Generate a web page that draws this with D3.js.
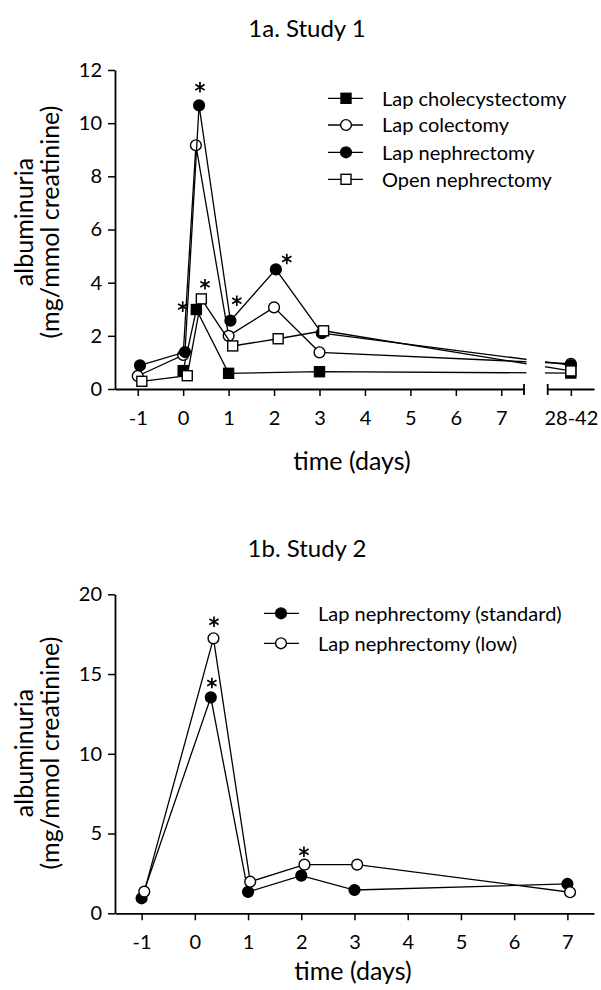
<!DOCTYPE html>
<html>
<head>
<meta charset="utf-8">
<script src="https://cdn.jsdelivr.net/npm/d3@7/dist/d3.min.js"></script>
<style>
  body { margin: 0; background: #fff; }
  text { font-family: Lato, "Open Sans", sans-serif; fill: #000; }
</style>
</head>
<body>
<svg id="fig" width="601" height="990"></svg>
<script>
// ---- data, study 1 ----
var legend1 = ["Lap cholecystectomy", "Lap colectomy", "Lap nephrectomy", "Open nephrectomy"];
var lateLabel = "28-42";
var dayTicks1 = [-1, 0, 1, 2, 3, 4, 5, 6, 7];
var yTicks1 = [0, 2, 4, 6, 8, 10, 12];

var cholecDays = [0, 0.29, 1, 3];
var cholecVals = [0.69, 2.99, 0.59, 0.65];
var cholecLate = 0.6;

var colecDays = [-1, 0, 0.28, 1, 2, 3];
var colecVals = [0.49, 1.28, 9.17, 2.0, 3.07, 1.38];
var colecLate = 0.95;

var lapNephDays = [-0.95, 0.04, 0.35, 1.04, 2.04, 3.05];
var lapNephVals = [0.89, 1.39, 10.67, 2.57, 4.5, 2.1];
var lapNephLate = 0.9;

var openNephDays = [-0.91, 0.09, 0.4, 1.09, 2.09, 3.09];
var openNephVals = [0.29, 0.5, 3.39, 1.62, 1.89, 2.19];
var openNephLate = 0.68;

// asterisks (day, value)
var stars1Days = [0.37, -0.01, 0.48, 1.18, 2.28];
var stars1Vals = [11.35, 3.1, 3.94, 3.32, 4.89];

// ---- data, study 2 ----
var legend2 = ["Lap nephrectomy (standard)", "Lap nephrectomy (low)"];
var dayTicks2 = [-1, 0, 1, 2, 3, 4, 5, 6, 7];
var yTicks2 = [0, 5, 10, 15, 20];

var stdDays = [-1, 0.3, 1, 2, 3, 7];
var stdVals = [0.94, 13.54, 1.34, 2.36, 1.46, 1.84];

var lowDays = [-0.95, 0.35, 1.04, 2.06, 3.05, 7.05];
var lowVals = [1.36, 17.24, 1.98, 3.05, 3.05, 1.32];

var stars2Days = [0.36, 0.32, 2.05];
var stars2Vals = [18.28, 14.44, 3.86];

var svg = d3.select("#fig");
var star = d3.symbol().type(d3.symbolAsterisk).size(80);

function marker(sel, sym, filled) {
    if (sym === "circle") {
        sel.append("circle").attr("r", 5.4);
    } else {
        sel.append("rect").attr("x", -5).attr("y", -5).attr("width", 10).attr("height", 10);
    }
    sel.selectAll("circle,rect")
        .attr("fill", filled ? "#000" : "#fff")
        .attr("stroke", "#000")
        .attr("stroke-width", 1.4);
}

function drawStar(px, py) {
    svg.append("path").attr("d", star)
        .attr("transform", "translate(" + px + "," + py + ")")
        .attr("fill", "none").attr("stroke", "#000").attr("stroke-width", 1.7);
}

function yLabel(cy) {
    var g = svg.append("g").attr("transform", "translate(0," + cy + ") rotate(-90)");
    g.append("text").attr("x", 0).attr("y", 33).attr("text-anchor", "middle")
        .attr("font-size", 25).text("albuminuria");
    g.append("text").attr("x", 0).attr("y", 59).attr("text-anchor", "middle")
        .attr("font-size", 25).text("(mg/mmol creatinine)");
}

function styleAxis(g) {
    g.selectAll("path.domain").attr("stroke", "#000").attr("stroke-width", 1.8);
    g.selectAll(".tick line").attr("stroke", "#000").attr("stroke-width", 1.5);
    g.selectAll(".tick text").attr("font-size", 20).attr("font-family", "Lato, 'Open Sans', sans-serif");
}

function plain(d) { return String(d); }

// ================= Chart 1 =================
var x1 = d3.scaleLinear().domain([-1.5, 7.5]).range([115, 524]);
var x1b = d3.scalePoint().domain([lateLabel]).range([547.7, 594]).padding(0.5);
var y1 = d3.scaleLinear().domain([0, 12]).range([389, 70]);

svg.append("text").attr("x", 307).attr("y", 37).attr("text-anchor", "middle")
    .attr("font-size", 24).text("1a. Study 1");

var ax1 = svg.append("g").attr("transform", "translate(115,0)")
    .call(d3.axisLeft(y1).tickValues(yTicks1).tickSize(7).tickSizeOuter(0).tickPadding(6).tickFormat(plain));
styleAxis(ax1);

var bx1 = svg.append("g").attr("transform", "translate(0,389)")
    .call(d3.axisBottom(x1).tickValues(dayTicks1).tickSize(7).tickSizeOuter(0).tickFormat(plain));
styleAxis(bx1);
bx1.selectAll(".tick text").attr("y", 36).attr("dy", 0);

var bx1b = svg.append("g").attr("transform", "translate(0,389)")
    .call(d3.axisBottom(x1b).tickSize(7).tickSizeOuter(0));
styleAxis(bx1b);
bx1b.selectAll(".tick text").attr("y", 36).attr("dy", 0);

// break caps
[x1.range()[1], x1b.range()[0]].forEach(function (px) {
    svg.append("line").attr("x1", px).attr("x2", px).attr("y1", 384).attr("y2", 395)
        .attr("stroke", "#000").attr("stroke-width", 1.8);
});

svg.append("text").attr("x", 352).attr("y", 470).attr("text-anchor", "middle")
    .attr("font-size", 25).text("time (days)");
yLabel(222);

// clip the lines across the axis break
var clip = svg.append("defs").append("clipPath").attr("id", "brk");
clip.append("rect").attr("x", 0).attr("y", 0).attr("width", 526.5).attr("height", 990);
clip.append("rect").attr("x", 545).attr("y", 0).attr("width", 56).attr("height", 990);

var series1 = [
    { days: cholecDays, vals: cholecVals, late: cholecLate, sym: "square", filled: true },
    { days: colecDays, vals: colecVals, late: colecLate, sym: "circle", filled: false },
    { days: lapNephDays, vals: lapNephVals, late: lapNephLate, sym: "circle", filled: true },
    { days: openNephDays, vals: openNephVals, late: openNephLate, sym: "square", filled: false }
];

var line = d3.line().x(function (d) { return d[0]; }).y(function (d) { return d[1]; });

series1.forEach(function (s) {
    var pts = s.days.map(function (d, i) { return [x1(d), y1(s.vals[i])]; });
    pts.push([x1b(lateLabel), y1(s.late)]);
    svg.append("path").datum(pts).attr("d", line)
        .attr("fill", "none").attr("stroke", "#000").attr("stroke-width", 1.3)
        .attr("clip-path", "url(#brk)");
    pts.forEach(function (p) {
        var g = svg.append("g").attr("transform", "translate(" + p[0] + "," + p[1] + ")");
        marker(g, s.sym, s.filled);
    });
});

stars1Days.forEach(function (d, i) { drawStar(x1(d), y1(stars1Vals[i])); });

// legend 1
var legRows1 = [98.3, 125, 152.3, 179.3];
series1.forEach(function (s, i) {
    var yy = legRows1[i];
    svg.append("line").attr("x1", 328).attr("x2", 363).attr("y1", yy).attr("y2", yy)
        .attr("stroke", "#000").attr("stroke-width", 1.3);
    marker(svg.append("g").attr("transform", "translate(346," + yy + ")"), s.sym, s.filled);
    svg.append("text").attr("x", 382).attr("y", yy).attr("dy", "0.36em")
        .attr("font-size", 20).text(legend1[i]);
});

// ================= Chart 2 =================
var x2 = d3.scaleLinear().domain([-1.5, 7.5]).range([115, 594]);
var y2 = d3.scaleLinear().domain([0, 20]).range([913.3, 594.3]);

svg.append("text").attr("x", 307).attr("y", 557).attr("text-anchor", "middle")
    .attr("font-size", 24).text("1b. Study 2");

var ax2 = svg.append("g").attr("transform", "translate(115,0)")
    .call(d3.axisLeft(y2).tickValues(yTicks2).tickSize(7).tickSizeOuter(0).tickPadding(6).tickFormat(plain));
styleAxis(ax2);

var bx2 = svg.append("g").attr("transform", "translate(0,913.3)")
    .call(d3.axisBottom(x2).tickValues(dayTicks2).tickSize(7).tickSizeOuter(0).tickFormat(plain));
styleAxis(bx2);
bx2.selectAll(".tick text").attr("y", 36).attr("dy", 0);

svg.append("text").attr("x", 353).attr("y", 980).attr("text-anchor", "middle")
    .attr("font-size", 25).text("time (days)");
yLabel(753);

var series2 = [
    { days: stdDays, vals: stdVals, sym: "circle", filled: true },
    { days: lowDays, vals: lowVals, sym: "circle", filled: false }
];

series2.forEach(function (s) {
    var pts = s.days.map(function (d, i) { return [x2(d), y2(s.vals[i])]; });
    svg.append("path").datum(pts).attr("d", line)
        .attr("fill", "none").attr("stroke", "#000").attr("stroke-width", 1.3);
    pts.forEach(function (p) {
        marker(svg.append("g").attr("transform", "translate(" + p[0] + "," + p[1] + ")"), s.sym, s.filled);
    });
});

stars2Days.forEach(function (d, i) { drawStar(x2(d), y2(stars2Vals[i])); });

var legRows2 = [613.3, 643.3];
series2.forEach(function (s, i) {
    var yy = legRows2[i];
    svg.append("line").attr("x1", 264).attr("x2", 299).attr("y1", yy).attr("y2", yy)
        .attr("stroke", "#000").attr("stroke-width", 1.3);
    marker(svg.append("g").attr("transform", "translate(281," + yy + ")"), s.sym, s.filled);
    svg.append("text").attr("x", 318).attr("y", yy).attr("dy", "0.36em")
        .attr("font-size", 20).text(legend2[i]);
});
</script>
</body>
</html>
